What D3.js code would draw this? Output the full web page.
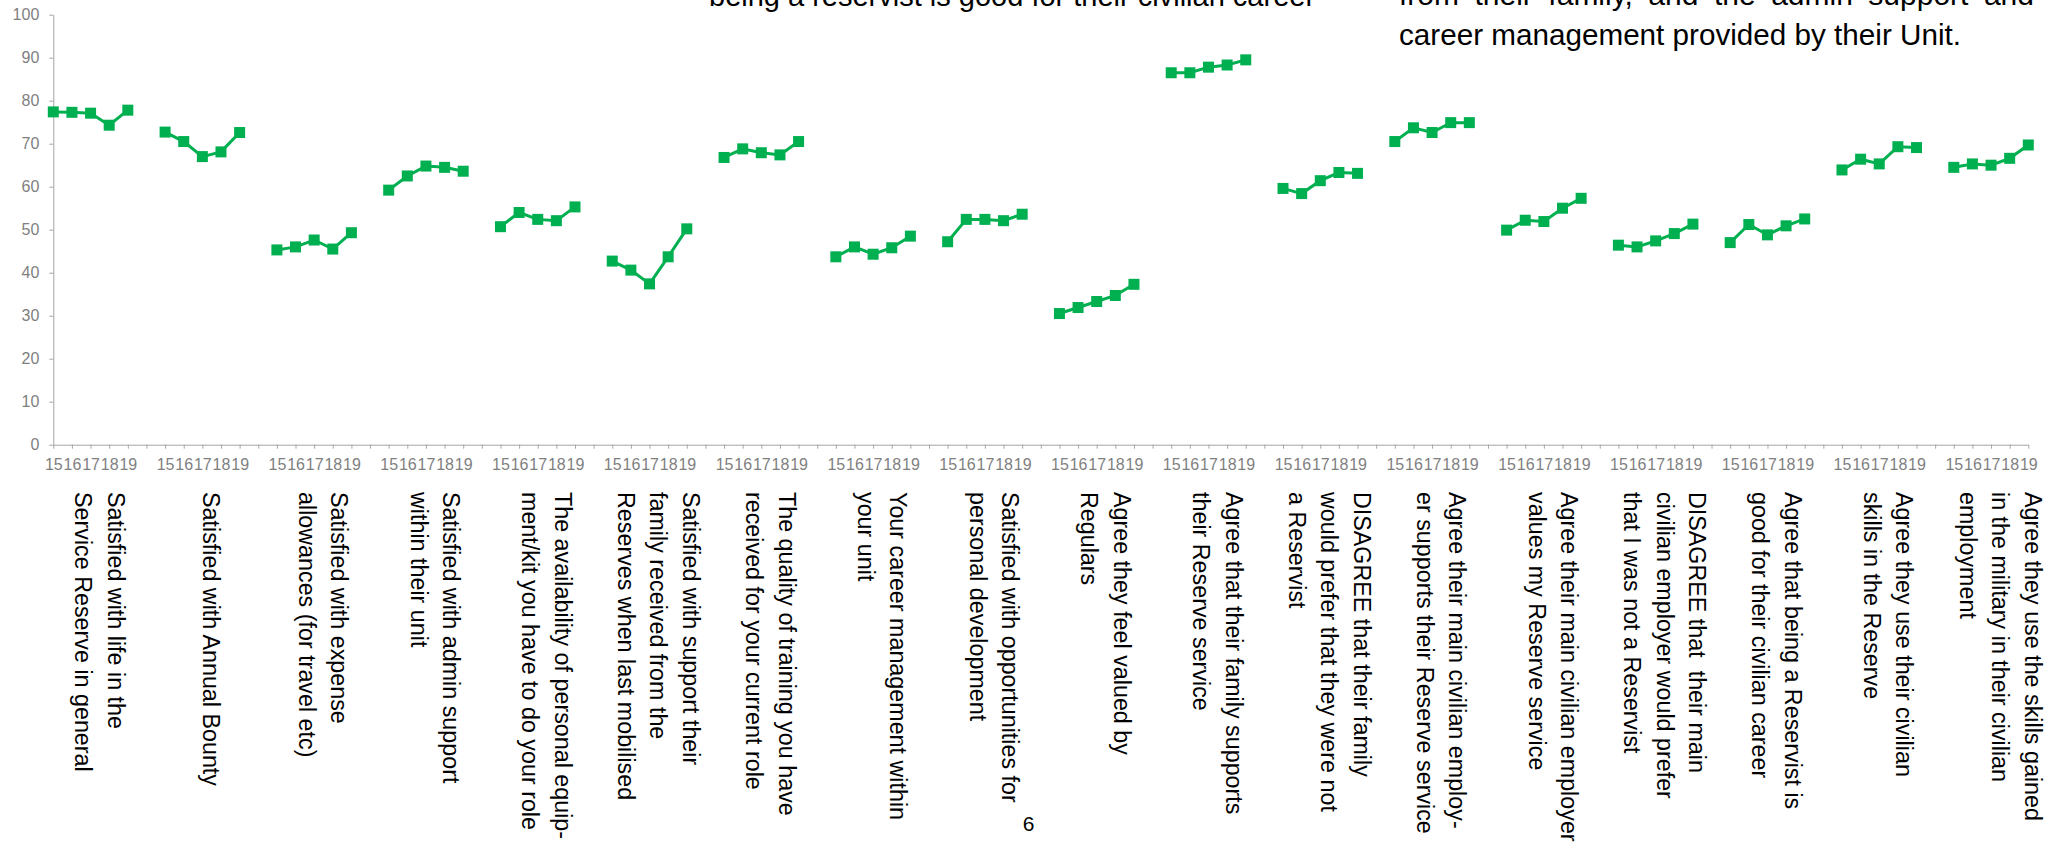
<html>
<head>
<meta charset="utf-8">
<style>
  body { margin: 0; background: #ffffff; }
  svg { display: block; font-family: "Liberation Sans", Arial, sans-serif; }
</style>
</head>
<body>
<script src="https://cdn.jsdelivr.net/npm/d3@7"></script>
<script>
// survey years shown under every question
const years = ["15", "16", "17", "18", "19"];

// question labels, one entry per line as wrapped in the chart
const groupLabels = [
  ["Satisfied with life in the", "Service Reserve in general"],
  ["Satisfied with Annual Bounty"],
  ["Satisfied with expense", "allowances (for travel etc)"],
  ["Satisfied with admin support", "within their unit"],
  ["The availability of personal equip-", "ment/kit you have to do your role"],
  ["Satisfied with support their", "family received from the", "Reserves when last mobilised"],
  ["The quality of training you have", "received for your current role"],
  ["Your career management within", "your unit"],
  ["Satisfied with opportunities for", "personal development"],
  ["Agree they feel valued by", "Regulars"],
  ["Agree that their family supports", "their Reserve service"],
  ["DISAGREE that their family", "would prefer that they were not", "a Reservist"],
  ["Agree their main civilian employ-", "er supports their Reserve service"],
  ["Agree their main civilian employer", "values my Reserve service"],
  ["DISAGREE that  their main", "civilian employer would prefer", "that I was not a Reservist"],
  ["Agree that being a Reservist is", "good for their civilian career"],
  ["Agree they use their civilian", "skills in the Reserve"],
  ["Agree they use the skills gained", "in the military in their civilian", "employment"]
];

// % values per question, years 15..19
const scores = [
  [77.4, 77.3, 77.1, 74.3, 77.8],
  [72.7, 70.5, 67.0, 68.1, 72.6],
  [45.3, 46.0, 47.6, 45.5, 49.3],
  [59.2, 62.5, 64.8, 64.5, 63.6],
  [50.7, 54.0, 52.4, 52.1, 55.3],
  [42.7, 40.6, 37.4, 43.7, 50.2],
  [66.8, 68.8, 67.9, 67.4, 70.5],
  [43.7, 46.0, 44.3, 45.8, 48.5],
  [47.2, 52.4, 52.4, 52.1, 53.6],
  [30.5, 31.9, 33.3, 34.7, 37.3],
  [86.5, 86.5, 87.8, 88.3, 89.5],
  [59.6, 58.4, 61.4, 63.3, 63.1],
  [70.5, 73.7, 72.6, 74.9, 74.9],
  [49.9, 52.2, 51.9, 55.0, 57.3],
  [46.4, 46.0, 47.4, 49.1, 51.3],
  [47.0, 51.2, 48.8, 50.9, 52.5],
  [63.9, 66.4, 65.3, 69.3, 69.1],
  [64.5, 65.3, 65.0, 66.6, 69.7]
];

const yTicks = [0, 10, 20, 30, 40, 50, 60, 70, 80, 90, 100];

const width = 2060, height = 848;
const green = "#00b050";
const axisGrey = "#a6a6a6";
const labelGrey = "#7f7f7f";

const svg = d3.select("body").append("svg")
  .attr("width", width)
  .attr("height", height);

// one category per year, plus an empty slot between questions
let cats = [];
scores.forEach((s, g) => {
  years.forEach(yr => cats.push(g + "-" + yr));
  if (g < scores.length - 1) cats.push(g + "-gap");
});

const x = d3.scalePoint().domain(cats).range([53.3, 2028.3]);
const y = d3.scaleLinear().domain([0, 100]).range([444.7, 14.7]);

const yAxis = svg.append("g")
  .attr("transform", `translate(${x.range()[0]},0)`)
  .call(d3.axisLeft(y).tickValues(yTicks).tickSize(4).tickSizeOuter(0).tickPadding(10));

const xAxis = svg.append("g")
  .attr("transform", `translate(0,${y(0)})`)
  .call(d3.axisBottom(x).tickSize(4).tickSizeOuter(0).tickPadding(10)
    .tickFormat(d => d.endsWith("gap") ? "" : d.split("-")[1]));

[yAxis, xAxis].forEach(a => {
  a.attr("font-family", null).attr("font-size", 16);
  a.selectAll("path, line").attr("stroke", axisGrey);
  a.selectAll("text").attr("fill", labelGrey);
});

// lines + square markers
const groups = scores.map((s, g) => s.map((v, i) => ({ cat: g + "-" + years[i], v: v })));
const line = d3.line().x(d => x(d.cat)).y(d => y(d.v));

svg.append("g").selectAll("path")
  .data(groups)
  .join("path")
  .attr("d", line)
  .attr("fill", "none")
  .attr("stroke", green)
  .attr("stroke-width", 3);

const mk = 11;
svg.append("g").selectAll("rect")
  .data(groups.flat())
  .join("rect")
  .attr("x", d => x(d.cat) - mk / 2)
  .attr("y", d => y(d.v) - mk / 2)
  .attr("width", mk)
  .attr("height", mk)
  .attr("fill", green);

// rotated question labels under each group
const fs = 23.3, pitch = 32.5;
const labelG = svg.append("g").attr("font-size", fs).attr("fill", "#000");
groupLabels.forEach((lines, g) => {
  const cx = x(g + "-" + years[0]) + 2.5 * x.step();
  const b0 = 0.358 * fs - (lines.length - 1) * pitch / 2;
  const t = labelG.append("text")
    .attr("transform", `translate(${cx},492) rotate(90)`)
    .style("white-space", "pre");
  lines.forEach((ln, k) => {
    t.append("tspan").attr("x", 0).attr("y", b0 + k * pitch).text(ln);
  });
});

// slide text cut off at the top of the picture
svg.append("text")
  .attr("x", 709).attr("y", 6)
  .attr("font-size", 29)
  .text("being a reservist is good for their civilian career");

// justified line: place words so they fill the width
const words = "from their family, and the admin support and".split(" ");
const jx0 = 1399, jx1 = 2034;
const wg = svg.append("g").attr("font-size", 30);
const wt = words.map(w => wg.append("text").attr("y", 5).text(w));
const total = d3.sum(wt, t => t.node().getComputedTextLength());
const gap = (jx1 - jx0 - total) / (words.length - 1);
let cursor = jx0;
wt.forEach(t => {
  t.attr("x", cursor);
  cursor += t.node().getComputedTextLength() + gap;
});

svg.append("text")
  .attr("x", 1399).attr("y", 45)
  .attr("font-size", 30)
  .attr("textLength", 562)
  .attr("lengthAdjust", "spacingAndGlyphs")
  .text("career management provided by their Unit.");

// page number
svg.append("text")
  .attr("x", 1028.7).attr("y", 831)
  .attr("text-anchor", "middle")
  .attr("font-size", 21)
  .text("6");
</script>
</body>
</html>
